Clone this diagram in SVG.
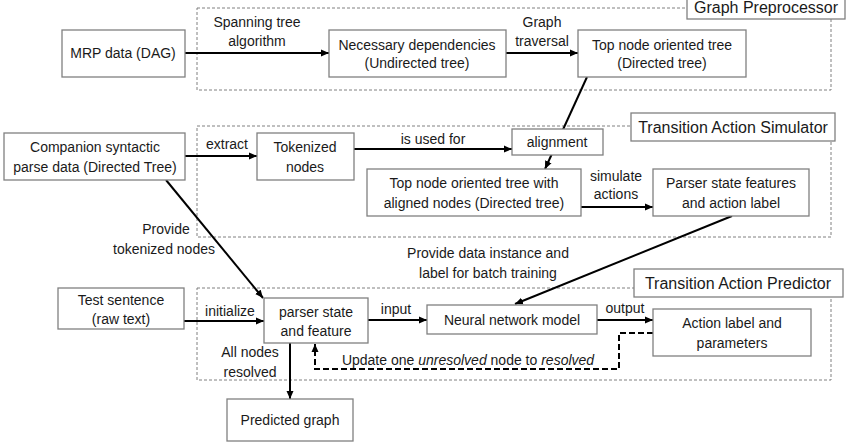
<svg xmlns="http://www.w3.org/2000/svg" width="849" height="448" viewBox="0 0 849 448">
<style>
text{font-family:"Liberation Sans",Arial,sans-serif;font-size:14px;fill:#1a1a1a;text-anchor:middle}
.t{font-size:16px}
.box{fill:#fff;stroke:#808080;stroke-width:1.3}
.reg{fill:none;stroke:#808080;stroke-width:1;stroke-dasharray:3,2}
.c{fill:none;stroke:#000;stroke-width:2;marker-end:url(#ah)}
.d{fill:none;stroke:#000;stroke-width:2;stroke-dasharray:6,3;marker-end:url(#ah)}
</style>
<defs>
<marker id="ah" markerUnits="userSpaceOnUse" markerWidth="9" markerHeight="8" refX="8" refY="4" orient="auto">
<path d="M0,0.5 L8,4 L0,7.5 z" fill="#000"/>
</marker>
</defs>
<rect width="849" height="448" fill="#fff"/>
<g id="regions">
<rect class="reg" x="197" y="8" width="634" height="82"/>
<rect class="reg" x="197" y="126" width="634" height="111"/>
<rect class="reg" x="197" y="288" width="634" height="92"/>
</g>
<g id="connectors">
<path class="c" d="M185,53 L329,53"/>
<path class="c" d="M506,53 L578,53"/>
<path class="c" d="M587,77 L545,169"/>
<path class="c" d="M185,156 L257,156"/>
<path class="c" d="M354,149 L512,149"/>
<path class="c" d="M581,207 L653,207"/>
<path class="c" d="M732,216 L515,304"/>
<path class="c" d="M166,180 L263,298"/>
<path class="c" d="M184,321 L264,321"/>
<path class="c" d="M368,320 L427,320"/>
<path class="c" d="M597,320 L653,320"/>
<path class="c" d="M290,343 L290,399"/>
<path class="d" d="M653,333 L619,333 L619,369 L315,369 L315,344"/>
</g>
<g id="labels">
<text x="257" y="27">Spanning tree</text>
<text x="257" y="46">algorithm</text>
<text x="542" y="27">Graph</text>
<text x="542" y="46">traversal</text>
<text x="227" y="149">extract</text>
<text x="433" y="144">is used for</text>
<text x="616" y="181">simulate</text>
<text x="616" y="199">actions</text>
<text x="166" y="234">Provide</text>
<text x="164" y="254">tokenized nodes</text>
<text x="488" y="258">Provide data instance and</text>
<text x="488" y="278">label for batch training</text>
<text x="230" y="316">initialize</text>
<text x="396" y="314">input</text>
<text x="625" y="313">output</text>
<text x="250" y="357">All nodes</text>
<text x="250" y="377">resolved</text>
<text x="468" y="365">Update one <tspan font-style="italic">unresolved</tspan> node to <tspan font-style="italic">resolved</tspan></text>
</g>
<g id="title-graph-preprocessor">
<rect class="box" x="687" y="-1" width="158" height="20"/>
<text class="t" x="766" y="13">Graph Preprocessor</text>
</g>
<g id="title-simulator">
<rect class="box" x="631" y="113" width="204" height="28"/>
<text class="t" x="733" y="133">Transition Action Simulator</text>
</g>
<g id="title-predictor">
<rect class="box" x="634" y="269" width="209" height="28"/>
<text class="t" x="738" y="289">Transition Action Predictor</text>
</g>
<g id="mrp">
<rect class="box" x="62" y="30" width="123" height="47"/>
<text x="123" y="58">MRP data (DAG)</text>
</g>
<g id="necessary">
<rect class="box" x="329" y="30" width="177" height="47"/>
<text x="417" y="50">Necessary dependencies</text>
<text x="417" y="68">(Undirected tree)</text>
</g>
<g id="topnode">
<rect class="box" x="578" y="30" width="168" height="47"/>
<text x="662" y="50">Top node oriented tree</text>
<text x="662" y="68">(Directed tree)</text>
</g>
<g id="companion">
<rect class="box" x="4" y="133" width="181" height="47"/>
<text x="95" y="152">Companion syntactic</text>
<text x="95" y="172">parse data (Directed Tree)</text>
</g>
<g id="tokenized">
<rect class="box" x="257" y="133" width="97" height="47"/>
<text x="305" y="152">Tokenized</text>
<text x="305" y="172">nodes</text>
</g>
<g id="alignment">
<rect class="box" x="512" y="129" width="91" height="26"/>
<text x="557" y="147">alignment</text>
</g>
<g id="topnode-aligned">
<rect class="box" x="367" y="169" width="214" height="47"/>
<text x="474" y="188">Top node oriented tree with</text>
<text x="474" y="208">aligned nodes (Directed tree)</text>
</g>
<g id="parser-state-features">
<rect class="box" x="653" y="169" width="156" height="47"/>
<text x="731" y="188">Parser state features</text>
<text x="731" y="208">and action label</text>
</g>
<g id="test-sentence">
<rect class="box" x="58" y="288" width="126" height="41"/>
<text x="121" y="305">Test sentence</text>
<text x="121" y="324">(raw text)</text>
</g>
<g id="parser-state">
<rect class="box" x="264" y="298" width="104" height="45"/>
<text x="316" y="317">parser state</text>
<text x="316" y="336">and feature</text>
</g>
<g id="neural">
<rect class="box" x="427" y="305" width="170" height="29"/>
<text x="512" y="325">Neural network model</text>
</g>
<g id="action-label">
<rect class="box" x="653" y="309" width="158" height="47"/>
<text x="732" y="328">Action label and</text>
<text x="732" y="348">parameters</text>
</g>
<g id="predicted">
<rect class="box" x="227" y="399" width="126" height="42"/>
<text x="290" y="425">Predicted graph</text>
</g>
</svg>
